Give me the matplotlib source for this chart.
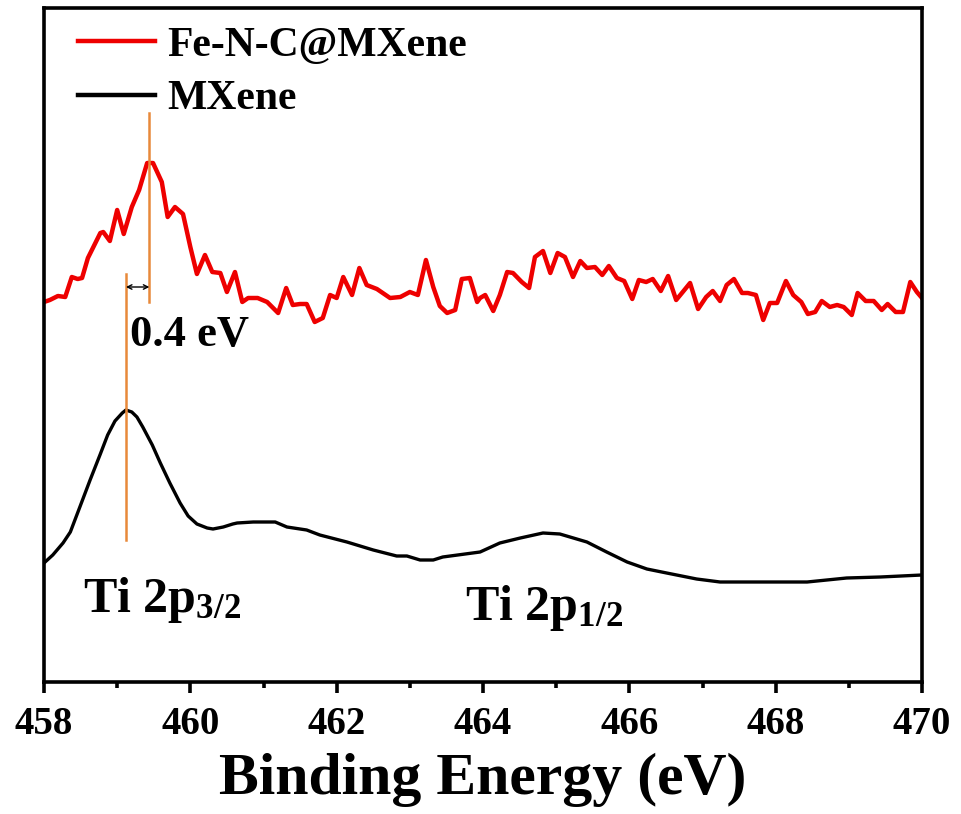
import matplotlib
matplotlib.use("Agg")
import matplotlib.pyplot as plt
from matplotlib.ticker import MultipleLocator

# ---- data ----
fenc_energy = [458.00, 458.08, 458.19, 458.29, 458.38, 458.46, 458.52, 458.60, 458.77, 458.81,
               458.90, 459.00, 459.09, 459.20, 459.30, 459.41, 459.49, 459.61, 459.69, 459.79,
               459.90, 460.00, 460.09, 460.20, 460.30, 460.41, 460.50, 460.61, 460.71, 460.79,
               460.92, 461.05, 461.20, 461.31, 461.40, 461.50, 461.59, 461.70, 461.81, 461.91,
               462.00, 462.09, 462.21, 462.31, 462.41, 462.55, 462.73, 462.87, 463.00, 463.11,
               463.22, 463.32, 463.41, 463.51, 463.62, 463.71, 463.82, 463.92, 463.96, 464.03,
               464.14, 464.23, 464.33, 464.41, 464.53, 464.63, 464.71, 464.82, 464.92, 465.02,
               465.12, 465.23, 465.33, 465.42, 465.53, 465.63, 465.72, 465.83, 465.93, 466.04,
               466.13, 466.23, 466.32, 466.43, 466.53, 466.64, 466.73, 466.83, 466.94, 467.05,
               467.14, 467.24, 467.33, 467.43, 467.54, 467.62, 467.73, 467.83, 467.92, 468.02,
               468.14, 468.24, 468.35, 468.44, 468.54, 468.63, 468.74, 468.84, 468.93, 469.04,
               469.12, 469.23, 469.34, 469.45, 469.53, 469.64, 469.74, 469.84, 469.93, 470.00]
fenc_intensity = [380, 382, 386, 385, 405, 403, 404, 424, 449, 450,
                  441, 472, 448, 475, 492, 519, 519, 500, 465, 475,
                  468, 435, 408, 427, 410, 409, 390, 410, 380, 384,
                  384, 380, 369, 394, 377, 378, 378, 360, 364, 387,
                  384, 405, 387, 414, 397, 393, 384, 385, 390, 387,
                  422, 395, 376, 369, 372, 403, 404, 380, 384, 387,
                  371, 387, 410, 409, 400, 394, 425, 431, 409, 429,
                  425, 405, 421, 414, 415, 407, 416, 404, 401, 383,
                  402, 400, 403, 391, 406, 382, 390, 399, 373, 385,
                  391, 381, 397, 403, 389, 389, 387, 362, 379, 379,
                  401, 387, 380, 368, 370, 381, 375, 377, 375, 367,
                  389, 381, 381, 372, 378, 370, 370, 400, 390, 384]

mxene_energy = [458.00, 458.12, 458.26, 458.36, 458.49, 458.63, 458.77, 458.87, 458.97, 459.07,
                459.12, 459.20, 459.27, 459.35, 459.48, 459.59, 459.72, 459.86, 459.97, 460.09,
                460.23, 460.31, 460.45, 460.58, 460.64, 460.86, 461.16, 461.32, 461.59, 461.77,
                462.14, 462.50, 462.82, 462.96, 463.14, 463.32, 463.45, 463.96, 464.23, 464.51,
                464.82, 465.05, 465.42, 465.69, 465.97, 466.24, 466.51, 466.92, 467.24, 467.74,
                468.43, 468.97, 469.43, 470.00]
mxene_intensity = [119, 127, 139, 150, 175, 202, 228, 247, 261, 269,
                   272, 270, 265, 255, 237, 219, 199, 179, 166, 158,
                   154, 153, 155, 158, 159, 160, 160, 155, 152, 147,
                   140, 132, 126, 126, 122, 122, 125, 130, 139, 144,
                   149, 148, 140, 130, 120, 113, 109, 103, 100, 100,
                   100, 104, 105, 107]

peak_fenc = 459.44
peak_mxene = 459.12
x_ticks = [458, 460, 462, 464, 466, 468, 470]

# ---- style ----
plt.rcParams['font.family'] = ['Liberation Serif', 'DejaVu Serif']
plt.rcParams['font.weight'] = 'bold'
plt.rcParams['mathtext.fontset'] = 'custom'
plt.rcParams['mathtext.rm'] = 'Liberation Serif:bold'
plt.rcParams['mathtext.bf'] = 'Liberation Serif:bold'
plt.rcParams['mathtext.it'] = 'Liberation Serif:bold'

fig = plt.figure(figsize=(9.62, 8.14), dpi=100)
ax = fig.add_axes([44/962, 132/814, 878/962, 674/814])

ax.plot(fenc_energy, fenc_intensity, color='#ee0000', lw=3.2, label='Fe-N-C@MXene')
ax.plot(mxene_energy, mxene_intensity, color='black', lw=2.4, label='MXene')

orange = '#e8893a'
ax.plot([peak_fenc, peak_fenc], [380, 569], color=orange, lw=1.8)
ax.plot([peak_mxene, peak_mxene], [142, 408], color=orange, lw=1.8)
ax.annotate('', xy=(peak_mxene, 395), xytext=(peak_fenc, 395),
            arrowprops=dict(arrowstyle='<->', color='black', lw=1.0,
                            mutation_scale=8, shrinkA=0, shrinkB=0))

ax.text(459.17, 347, '0.4 eV', fontsize=32, fontweight='bold', va='center', ha='left')
ax.text(458.53, 70, 'Ti 2p$_{3/2}$', fontsize=36, ha='left', va='baseline')
ax.text(463.76, 62, 'Ti 2p$_{1/2}$', fontsize=36, ha='left', va='baseline')

ax.set_xlim(458, 470)
ax.set_ylim(0, 674)
ax.set_yticks([])
ax.set_xticks(x_ticks)
ax.xaxis.set_minor_locator(MultipleLocator(1))
for s in ax.spines.values():
    s.set_linewidth(2.6)
ax.tick_params(axis='x', which='major', direction='out', length=8, width=2.6,
               labelsize=28, pad=9)
ax.tick_params(axis='x', which='minor', direction='out', length=4, width=2.6)
for lab in ax.get_xticklabels():
    lab.set_fontweight('bold')
ax.set_xlabel('Binding Energy (eV)', fontsize=43, fontweight='bold', labelpad=7)

leg = ax.legend(loc='upper left', bbox_to_anchor=(0.0387, 0.972), frameon=False,
                borderaxespad=0, borderpad=0, handlelength=1.85, handletextpad=0.3,
                labelspacing=0.36, prop={'size': 30, 'weight': 'bold'})
for h in leg.get_lines():
    h.set_linewidth(3.2)

fig.savefig('out.png', dpi=100)
